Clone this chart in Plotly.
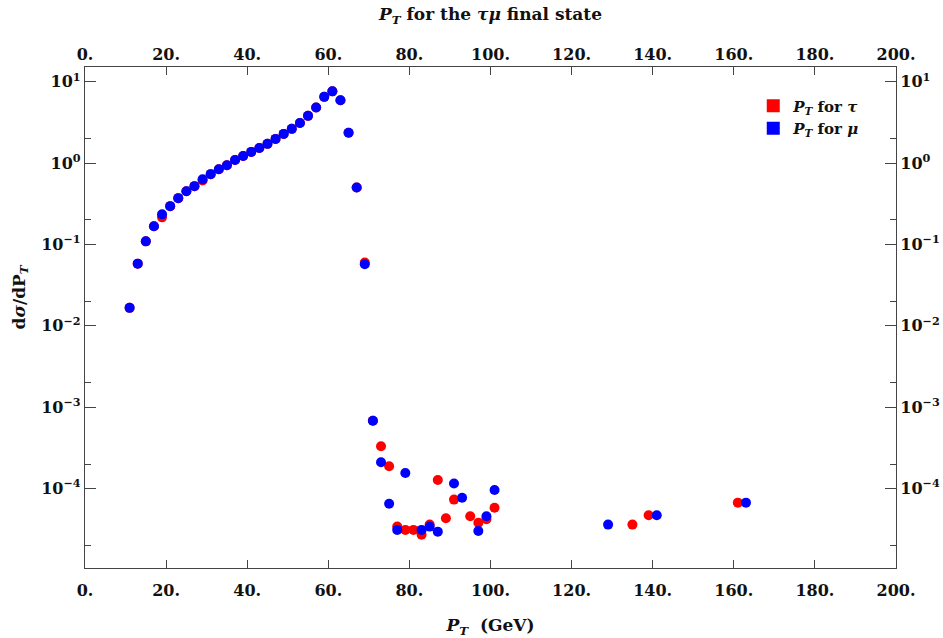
import plotly.graph_objects as go

# ---- data ----
x_tau = [11, 13, 15, 17, 19, 21, 23, 25, 27, 29, 31, 33, 35, 37, 39, 41, 43, 45, 47, 49,
         51, 53, 55, 57, 59, 61, 63, 65, 67, 69,
         71, 73, 75, 77, 79, 81, 83, 85, 87, 89, 91, 95, 97, 99, 101, 135, 139, 161]
y_tau = [0.0166, 0.058, 0.109, 0.167, 0.215, 0.295, 0.37, 0.45, 0.52, 0.61, 0.73, 0.84,
         0.94, 1.09, 1.22, 1.37, 1.53, 1.72, 1.98, 2.28, 2.63, 3.1, 3.8, 4.8, 6.5, 7.6,
         5.9, 2.35, 0.5, 0.06,
         6.8e-4, 3.3e-4, 1.88e-4, 3.4e-5, 3.1e-5, 3.1e-5, 2.7e-5, 3.6e-5, 1.27e-4, 4.3e-5,
         7.3e-5, 4.55e-5, 3.8e-5, 4.2e-5, 5.8e-5, 3.6e-5, 4.7e-5, 6.7e-5]

x_mu = [11, 13, 15, 17, 19, 21, 23, 25, 27, 29, 31, 33, 35, 37, 39, 41, 43, 45, 47, 49,
        51, 53, 55, 57, 59, 61, 63, 65, 67, 69,
        71, 73, 75, 77, 79, 83, 85, 87, 91, 93, 97, 99, 101, 129, 141, 163]
y_mu = [0.0166, 0.058, 0.109, 0.167, 0.234, 0.295, 0.37, 0.45, 0.52, 0.63, 0.73, 0.84,
        0.94, 1.09, 1.22, 1.37, 1.53, 1.72, 1.98, 2.28, 2.63, 3.1, 3.8, 4.8, 6.5, 7.6,
        5.9, 2.35, 0.5, 0.057,
        6.8e-4, 2.1e-4, 6.5e-5, 3.1e-5, 1.55e-4, 3.1e-5, 3.4e-5, 2.95e-5, 1.15e-4, 7.7e-5,
        3.0e-5, 4.55e-5, 9.6e-5, 3.6e-5, 4.7e-5, 6.7e-5]

x_tickvals = [0, 20, 40, 60, 80, 100, 120, 140, 160, 180, 200]
x_ticktext = ["0.", "20.", "40.", "60.", "80.", "100.", "120.", "140.", "160.", "180.", "200."]
y_tickvals = [1e-4, 1e-3, 1e-2, 1e-1, 1e0, 1e1]
y_ticktext = ["10<sup>−4</sup>", "10<sup>−3</sup>", "10<sup>−2</sup>", "10<sup>−1</sup>",
              "10<sup>0</sup>", "10<sup>1</sup>"]
y_minor = [2e-5, 2e-4, 2e-3, 2e-2, 2e-1, 2e0]

FONT = "DejaVu Serif"
AX = "#444444"

fig = go.Figure()
fig.add_trace(go.Scatter(x=x_tau, y=y_tau, mode="markers", showlegend=False,
                         marker=dict(color="#ff0000", size=10, line=dict(width=0))))
fig.add_trace(go.Scatter(x=x_mu, y=y_mu, mode="markers", showlegend=False,
                         marker=dict(color="#0000ff", size=10, line=dict(width=0))))
# legend entries
fig.add_trace(go.Scatter(x=[None], y=[None], mode="markers",
                         name="<i>P</i><sub><i>T</i></sub> for <i>τ</i>",
                         marker=dict(color="#ff0000", symbol="square", size=13)))
fig.add_trace(go.Scatter(x=[None], y=[None], mode="markers",
                         name="<i>P</i><sub><i>T</i></sub> for <i>μ</i>",
                         marker=dict(color="#0000ff", symbol="square", size=13)))
# dummy traces for mirrored axes
fig.add_trace(go.Scatter(x=[None], y=[None], xaxis="x2", yaxis="y2", showlegend=False,
                         hoverinfo="skip"))

xcommon = dict(range=[0, 200], tickvals=x_tickvals, ticktext=x_ticktext, automargin=False,
               ticks="inside", ticklen=8, tickwidth=1, tickcolor=AX,
               showline=True, linecolor=AX, linewidth=1.3, showgrid=False, zeroline=False,
               tickfont=dict(family=FONT, size=16, color="#111", weight="bold"))
ycommon = dict(type="log", range=[-4.977, 1.18], tickvals=y_tickvals, ticktext=y_ticktext,
               automargin=False,
               ticks="inside", ticklen=11, tickwidth=1, tickcolor=AX,
               minor=dict(tickvals=y_minor, ticks="inside", ticklen=6, tickcolor=AX, showgrid=False),
               showline=True, linecolor=AX, linewidth=1.3, showgrid=False, zeroline=False,
               tickfont=dict(family=FONT, size=16, color="#111", weight="bold"))

fig.update_layout(
    width=943, height=638,
    margin=dict(l=85, r=47, t=67, b=70),
    paper_bgcolor="white", plot_bgcolor="white",
    xaxis=dict(**xcommon, side="bottom", ticklabelstandoff=8,
               title=dict(text="<i>P</i><sub><i>T</i></sub>  (GeV)",
                          font=dict(family=FONT, size=17, color="#111", weight="bold"),
                          standoff=22)),
    xaxis2=dict(**xcommon, side="top", overlaying="x", matches="x", ticklabelstandoff=-1,
                title=dict(text="<i>P</i><sub><i>T</i></sub> for the <i>τμ</i> final state",
                           font=dict(family=FONT, size=17, color="#111", weight="bold"),
                           standoff=20)),
    yaxis=dict(**ycommon, side="left"),
    yaxis2=dict(**ycommon, side="right", overlaying="y"),
    legend=dict(x=0.824, y=0.955, xanchor="left", yanchor="top",
                bgcolor="rgba(0,0,0,0)", borderwidth=0,
                font=dict(family=FONT, size=15, color="#111", weight="bold"),
                tracegroupgap=2),
    annotations=[dict(text="d<i>σ</i>/dP<sub><i>T</i></sub>", textangle=-90,
                      x=(20 - 85) / (943 - 85 - 47), xref="paper", xanchor="center",
                      y=0.54, yref="paper", yanchor="middle", showarrow=False,
                      font=dict(family=FONT, size=17, color="#111", weight="bold"))],
)

fig.write_html("out.html")
